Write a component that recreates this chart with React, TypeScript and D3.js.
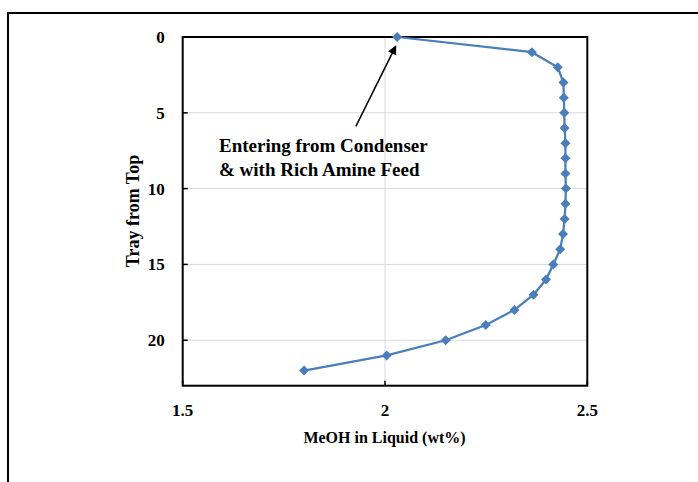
import React from "react";
import * as d3 from "d3";

const trays = [0,1,2,3,4,5,6,7,8,9,10,11,12,13,14,15,16,17,18,19,20,21,22];
const meoh = [2.030,2.363,2.427,2.441,2.442,2.443,2.444,2.446,2.446,2.446,2.447,2.446,2.444,2.440,2.433,2.416,2.398,2.367,2.320,2.249,2.150,2.004,1.800];
const xTicks = [1.5, 2, 2.5];
const yTicks = [0, 5, 10, 15, 20];
const xTickLabels = ["1.5", "2", "2.5"];
const annotationLines = ["Entering from Condenser", "& with Rich Amine Feed"];

const W = 698, H = 482;
const left = 182.7, right = 587.3, top = 37, bottom = 385.7;
const font = "'Liberation Serif', 'Times New Roman', serif";
const blue = "#4A7EBB";

export default function App() {
  const x = d3.scaleLinear().domain([1.5, 2.5]).range([left, right]);
  const y = d3.scaleLinear().domain([0, 23]).range([top, bottom]);
  const line = d3.line<number>().x((d, i) => x(meoh[i])).y((d) => y(d));
  const r = 5;
  const diamond = `M0,${-r} L${r},0 L0,${r} L${-r},0 Z`;
  const arrowTip = { x: x(2.0265), y: y(0.6) };
  const arrowStart = { x: x(1.928), y: y(5.9) };
  return (
    <svg width={W} height={H} style={{ position: "absolute", left: 0, top: 0, background: "#fff" }}>
      <defs>
        <marker id="ah" viewBox="0 0 10 10" refX="9" refY="5" markerWidth="6" markerHeight="6" orient="auto">
          <path d="M0,0 L10,5 L0,10 z" fill="#000" />
        </marker>
      </defs>
      <rect x={0} y={0} width={W} height={H} fill="#fff" />
      <path d={`M8,${H + 5} L8,13 L${W + 5},13`} fill="none" stroke="#000" strokeWidth={2} />
      {yTicks.filter((t) => t > 0).map((t) => (
        <line key={"gy" + t} x1={left} x2={right} y1={y(t)} y2={y(t)} stroke="#d9d9d9" strokeWidth={1} />
      ))}
      <line x1={x(2)} x2={x(2)} y1={top} y2={bottom} stroke="#d9d9d9" strokeWidth={1} />
      <rect x={left} y={top} width={right - left} height={bottom - top} fill="none" stroke="#000" strokeWidth={2} />
      {yTicks.map((t) => (
        <g key={"ty" + t}>
          <line x1={left} x2={left + 5} y1={y(t)} y2={y(t)} stroke="#000" strokeWidth={1.5} />
          <text x={left - 18} y={y(t)} dy="0.35em" textAnchor="end" fontFamily={font} fontWeight="bold" fontSize={17}>{t}</text>
        </g>
      ))}
      {xTicks.map((t, i) => (
        <g key={"tx" + t}>
          <line x1={x(t)} x2={x(t)} y1={bottom} y2={bottom - 5} stroke="#000" strokeWidth={1.5} />
          <text x={x(t)} y={y(23) + 30} textAnchor="middle" fontFamily={font} fontWeight="bold" fontSize={17}>{xTickLabels[i]}</text>
        </g>
      ))}
      <text x={384.5} y={443} textAnchor="middle" fontFamily={font} fontWeight="bold" fontSize={16}>MeOH in Liquid (wt%)</text>
      <text transform={`translate(139,211) rotate(-90)`} textAnchor="middle" fontFamily={font} fontWeight="bold" fontSize={18}>Tray from Top</text>
      <path d={line(trays) || ""} fill="none" stroke={blue} strokeWidth={2.25} />
      {trays.map((t, i) => (
        <path key={"m" + t} d={diamond} transform={`translate(${x(meoh[i])},${y(t)})`} fill={blue} />
      ))}
      <line x1={arrowStart.x} y1={arrowStart.y} x2={arrowTip.x} y2={arrowTip.y} stroke="#000" strokeWidth={1.5} markerEnd="url(#ah)" />
      {annotationLines.map((s, i) => (
        <text key={s} x={219} y={152 + i * 24} fontFamily={font} fontWeight="bold" fontSize={19}>{s}</text>
      ))}
    </svg>
  );
}
